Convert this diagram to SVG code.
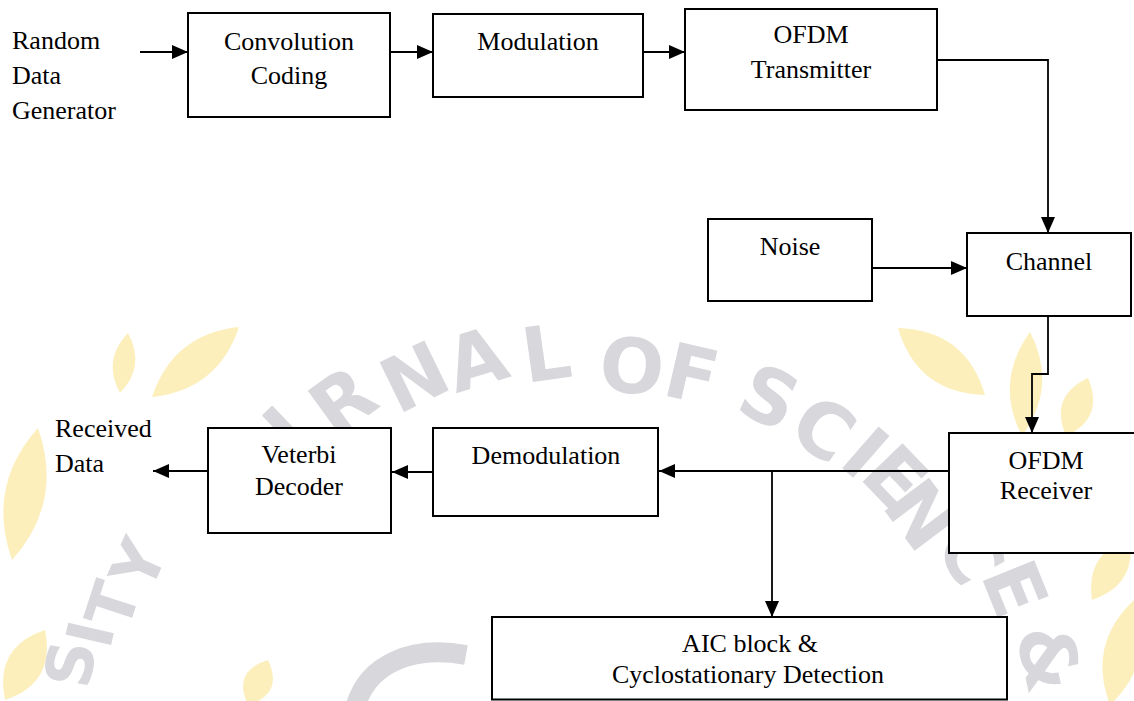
<svg xmlns="http://www.w3.org/2000/svg" width="1134" height="701" viewBox="0 0 1134 701">
<defs>
<style>
.box{fill:#fff;stroke:#000;stroke-width:2}
.t{font-family:"Liberation Serif","Times New Roman",serif;font-size:26px;fill:#000}
.c{text-anchor:middle}
.ln{fill:none;stroke:#000;stroke-width:1.8}
.wm{font-family:"DejaVu Sans","Liberation Sans",sans-serif;font-weight:bold;font-size:76px;fill:#d7d7dc;text-anchor:middle}
.wms{font-size:64px}
.leaf{fill:#fcefbc}
</style>
<marker id="ah" markerUnits="userSpaceOnUse" markerWidth="17" markerHeight="15" refX="16" refY="7" orient="auto">
<path d="M0,0 L16,7 L0,14 z" fill="#000"/>
</marker>
</defs>
<rect width="1134" height="701" fill="#fff"/>
<g id="watermark">
<path class="leaf" d="M152,397 Q218,390 239,327 Q173,334 152,397Z"/>
<path class="leaf" d="M120,393 Q146,366 128,333 Q102,360 120,393Z"/>
<path class="leaf" d="M12,560 Q64,502 38,428 Q-14,486 12,560Z"/>
<path class="leaf" d="M5,700 Q56,683 45,630 Q-6,647 5,700Z"/>
<path class="leaf" d="M248,705 Q284,694 268,660 Q232,671 248,705Z"/>
<path class="leaf" d="M898,328 Q917,393 985,395 Q966,330 898,328Z"/>
<path class="leaf" d="M1022,436 Q1058,386 1030,332 Q994,382 1022,436Z"/>
<path class="leaf" d="M1066,436 Q1105,418 1088,378 Q1049,396 1066,436Z"/>
<path class="leaf" d="M1092,600 Q1137,585 1130,538 Q1085,553 1092,600Z"/>
<path class="leaf" d="M1110,705 Q1157,660 1134,600 Q1087,644 1110,705Z"/>
<path d="M466,655 C410,645 368,665 356,705" fill="none" stroke="#d7d7dc" stroke-width="20"/>
<text class="wm" transform="translate(274,442) rotate(-44)" y="28">U</text>
<text class="wm" transform="translate(342,400) rotate(-36)" y="28">R</text>
<text class="wm" transform="translate(414,376) rotate(-26)" y="28">N</text>
<text class="wm" transform="translate(476,358) rotate(-17)" y="28">A</text>
<text class="wm" transform="translate(546,352) rotate(-8)" y="28">L</text>
<text class="wm" transform="translate(632,365) rotate(5)" y="28">O</text>
<text class="wm" transform="translate(692,373) rotate(13)" y="28">F</text>
<text class="wm" transform="translate(770,396) rotate(25)" y="28">S</text>
<text class="wm" transform="translate(824,428) rotate(34)" y="28">C</text>
<text class="wm" transform="translate(866,452) rotate(41)" y="28">I</text>
<text class="wm" transform="translate(896,476) rotate(46)" y="28">E</text>
<text class="wm" transform="translate(922,514) rotate(53)" y="28">N</text>
<text class="wm" transform="translate(972,553) rotate(61)" y="28">C</text>
<text class="wm" transform="translate(1016,588) rotate(68)" y="28">E</text>
<text class="wm" transform="translate(1050,658) rotate(78)" y="28">&amp;</text>
<text class="wm wms" transform="translate(138,564) rotate(-66)" y="23">Y</text>
<text class="wm wms" transform="translate(112,605) rotate(-72)" y="23">T</text>
<text class="wm wms" transform="translate(90,634) rotate(-77)" y="23">I</text>
<text class="wm wms" transform="translate(70,664) rotate(-81)" y="23">S</text>
</g>
<g id="connectors">
<path class="ln" d="M140,52 H188" marker-end="url(#ah)"/>
<path class="ln" d="M390,52 H433" marker-end="url(#ah)"/>
<path class="ln" d="M643,52 H685" marker-end="url(#ah)"/>
<path class="ln" d="M937,60 H1048 V233" marker-end="url(#ah)"/>
<path class="ln" d="M872,268 H967" marker-end="url(#ah)"/>
<path class="ln" d="M1048,316 V374 H1032 V433" marker-end="url(#ah)"/>
<path class="ln" d="M949,471 H659" marker-end="url(#ah)"/>
<path class="ln" d="M772,471 V617" marker-end="url(#ah)"/>
<path class="ln" d="M433,472 H392" marker-end="url(#ah)"/>
<path class="ln" d="M208,471 H153" marker-end="url(#ah)"/>
</g>
<g id="random-data-generator">
<text class="t" x="12" y="49">Random</text>
<text class="t" x="12" y="84">Data</text>
<text class="t" x="12" y="119">Generator</text>
</g>
<g id="convolution-coding">
<rect class="box" x="188" y="13" width="202" height="104"/>
<text class="t c" x="289" y="50">Convolution</text>
<text class="t c" x="289" y="84">Coding</text>
</g>
<g id="modulation">
<rect class="box" x="433" y="14" width="210" height="83"/>
<text class="t c" x="538" y="50">Modulation</text>
</g>
<g id="ofdm-transmitter">
<rect class="box" x="685" y="9" width="252" height="101"/>
<text class="t c" x="811" y="43">OFDM</text>
<text class="t c" x="811" y="78">Transmitter</text>
</g>
<g id="noise">
<rect class="box" x="708" y="219" width="164" height="82"/>
<text class="t c" x="790" y="255">Noise</text>
</g>
<g id="channel">
<rect class="box" x="967" y="233" width="164" height="83"/>
<text class="t c" x="1049" y="270">Channel</text>
</g>
<g id="ofdm-receiver">
<rect class="box" x="949" y="433" width="200" height="120"/>
<text class="t c" x="1046" y="469">OFDM</text>
<text class="t c" x="1046" y="499">Receiver</text>
</g>
<g id="demodulation">
<rect class="box" x="433" y="428" width="225" height="88"/>
<text class="t c" x="546" y="464">Demodulation</text>
</g>
<g id="veterbi-decoder">
<rect class="box" x="208" y="428" width="183" height="105"/>
<text class="t c" x="299" y="463">Veterbi</text>
<text class="t c" x="299" y="495">Decoder</text>
</g>
<g id="received-data">
<text class="t" x="55" y="437">Received</text>
<text class="t" x="55" y="472">Data</text>
</g>
<g id="aic-block">
<rect class="box" x="492" y="617" width="515" height="82.5"/>
<text class="t c" x="750" y="652">AIC block &amp;</text>
<text class="t c" x="748" y="683">Cyclostationary Detection</text>
</g>
</svg>
